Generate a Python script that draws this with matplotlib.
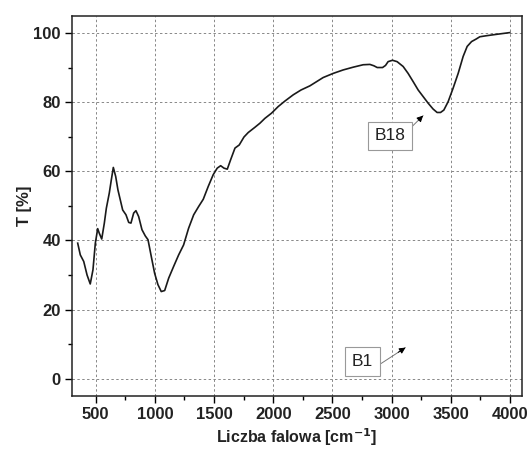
import matplotlib
matplotlib.use("Agg")
import matplotlib.pyplot as plt
from matplotlib.ticker import MultipleLocator

# widmo FTIR
wavenumber = [348, 370, 399, 427, 454, 477, 497, 517, 530, 551, 573, 590, 615, 632, 649,
              669, 688, 708, 728, 756, 779, 798, 821, 840, 863, 891, 919, 942, 970, 998,
              1026, 1054, 1083, 1117, 1159, 1201, 1243, 1285, 1328, 1370, 1409, 1451, 1493,
              1527, 1556, 1584, 1612, 1640, 1677, 1713, 1753, 1789, 1845, 1888, 1930, 1986,
              2042, 2099, 2169, 2235, 2310, 2366, 2422, 2507, 2591, 2676, 2760, 2817, 2851,
              2879, 2924, 2949, 2971, 3008, 3047, 3098, 3140, 3183, 3225, 3267, 3309, 3351,
              3385, 3414, 3442, 3478, 3520, 3563, 3605, 3639, 3676, 3718, 3746, 3802, 3887,
              3999]
transmittance = [39.2, 35.8, 33.9, 30.0, 27.4, 31.5, 39.2, 43.4, 42.1, 40.4, 45.0, 49.3, 53.7,
                 57.5, 61.1, 58.5, 54.6, 51.7, 48.8, 47.4, 45.2, 45.0, 47.9, 48.6, 46.9, 43.1,
                 41.3, 40.2, 35.3, 30.5, 27.2, 25.2, 25.5, 29.1, 32.5, 35.8, 38.7, 43.5, 47.4,
                 49.8, 51.9, 55.6, 59.0, 60.9, 61.6, 60.9, 60.6, 63.3, 66.7, 67.6, 69.9, 71.2,
                 72.7, 73.9, 75.3, 76.8, 78.7, 80.3, 82.1, 83.5, 84.7, 85.9, 87.1, 88.3, 89.3,
                 90.1, 90.8, 90.9, 90.5, 90.0, 90.0, 90.6, 91.7, 92.1, 91.7, 90.3, 88.3, 85.9,
                 83.5, 81.6, 79.7, 78.0, 77.0, 77.0, 77.7, 80.1, 84.0, 88.3, 93.2, 96.1, 97.5,
                 98.3, 98.9, 99.2, 99.6, 100.1]

labels = ["B18", "B1"]
label_xy = [(2986, 70.2), (2755, 5.1)]
arrow_tail = [(3140, 71.8), (2912, 4.4)]
arrow_tip = [(3267, 76.1), (3118, 9.0)]

plt.rcParams['font.family'] = ['Liberation Sans', 'DejaVu Sans']

fig = plt.figure(figsize=(5.28, 4.54), dpi=100)
ax = fig.add_axes([0.1364, 0.1278, 0.8517, 0.8377])

ax.plot(wavenumber, transmittance, color='#1a1a1a', lw=1.2)

for lab, xy, tail, tip in zip(labels, label_xy, arrow_tail, arrow_tip):
    ax.annotate('', xy=tip, xytext=tail,
                arrowprops=dict(arrowstyle='-', color='#777777', lw=0.7,
                                shrinkA=0, shrinkB=0))
    ax.annotate('', xy=tip, xytext=(tip[0] - 0.3 * (tip[0] - tail[0]), tip[1] - 0.3 * (tip[1] - tail[1])),
                arrowprops=dict(arrowstyle='-|>', color='black', lw=0.7,
                                mutation_scale=9, shrinkA=0, shrinkB=0))
    ax.text(xy[0], xy[1], lab, fontsize=12.5, ha='center', va='center', zorder=5,
            color='#222222',
            bbox=dict(boxstyle='square,pad=0.4', fc='white', ec='#999999', lw=0.8))

ax.set_xlim(300, 4100)
ax.set_ylim(-5, 105)
ax.xaxis.set_major_locator(MultipleLocator(500))
ax.xaxis.set_minor_locator(MultipleLocator(250))
ax.yaxis.set_major_locator(MultipleLocator(20))
ax.yaxis.set_minor_locator(MultipleLocator(10))
ax.set_xticks(range(500, 4001, 500))

ax.grid(True, which='major', color='#888888', ls=(0, (2.5, 2.5)), lw=0.7)
ax.tick_params(which='major', direction='out', length=5, width=1, labelsize=12,
               pad=3, labelcolor='#222222')
ax.tick_params(which='minor', direction='out', length=3, width=1)
for lbl in ax.get_xticklabels() + ax.get_yticklabels():
    lbl.set_fontweight('bold')
for sp in ax.spines.values():
    sp.set_linewidth(1.1)
    sp.set_color('#222222')

ax.set_xlabel('Liczba falowa [cm$^{\\mathbf{-1}}$]', fontsize=11.5, fontweight='bold',
              labelpad=3, color='#222222')
ax.set_ylabel('T [%]', fontsize=12, fontweight='bold', labelpad=1, color='#222222')

fig.savefig('out.png', dpi=100)
